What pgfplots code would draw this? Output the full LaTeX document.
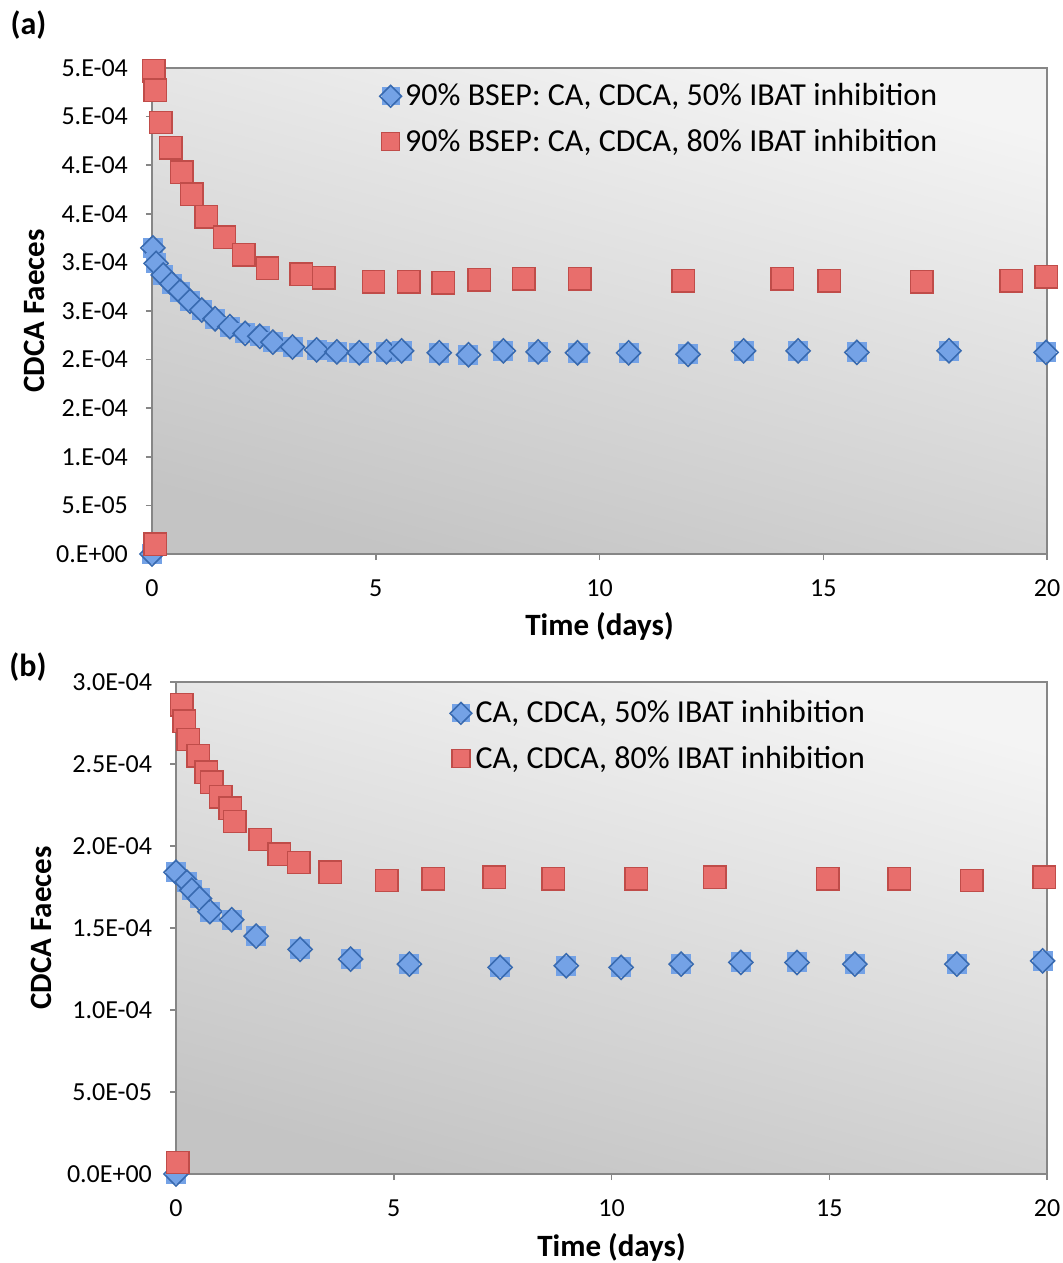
\documentclass[border=0pt]{standalone}
\usepackage{fontspec}
\setmainfont{Carlito}
\usepackage{pgfplots}
\pgfplotsset{compat=1.18}

\definecolor{redfill}{RGB}{232,110,108}
\definecolor{reddraw}{RGB}{192,76,73}
\definecolor{bluesq}{RGB}{116,162,230}
\definecolor{bluedia}{RGB}{56,106,176}
\definecolor{axgray}{RGB}{134,134,134}
\definecolor{bgtop}{RGB}{244,244,244}
\definecolor{bgbot}{RGB}{196,196,196}

% blue marker: filled square with a diamond outline on top
\pgfdeclareplotmark{sqdia}{%
  \pgfpathrectangle{\pgfqpoint{-\pgfplotmarksize}{-\pgfplotmarksize}}{\pgfqpoint{2\pgfplotmarksize}{2\pgfplotmarksize}}%
  \pgfsetfillcolor{bluesq}\pgfusepath{fill}%
  \pgfpathmoveto{\pgfqpoint{0pt}{1.2\pgfplotmarksize}}%
  \pgfpathlineto{\pgfqpoint{1.2\pgfplotmarksize}{0pt}}%
  \pgfpathlineto{\pgfqpoint{0pt}{-1.2\pgfplotmarksize}}%
  \pgfpathlineto{\pgfqpoint{-1.2\pgfplotmarksize}{0pt}}%
  \pgfpathclose
  \pgfsetstrokecolor{bluedia}\pgfusepath{stroke}}

\pgfplotsset{
  panel/.style={
    scale only axis, clip=false,
    xmin=0, xmax=20, xtick={0,5,10,15,20},
    xtick pos=left, ytick pos=left,
    tick align=outside, major tick length=3pt,
    scaled y ticks=false,
    axis line style={axgray, line width=0.75pt},
    tick style={axgray, line width=0.75pt},
    ticklabel style={font=\fontsize{13}{15}\selectfont},
    yticklabel style={xshift=-5.5pt},
    xticklabel style={yshift=-6.5pt},
    /pgf/number format/assume math mode=true,
    label style={font=\fontsize{15.5}{18}\selectfont\bfseries},
    xlabel={Time (days)},
    ylabel={CDCA Faeces},
    axis background/.style={top color=bgtop, bottom color=bgbot, shading angle=-15},
    legend cell align=left,
    legend image code/.code={\draw[##1,mark size=4.5pt] plot coordinates {(0.15cm,0cm)};},
    legend style={draw=none, fill=none, font=\fontsize{16}{19}\selectfont,
      row sep=8pt, nodes={inner xsep=1.5pt, inner ysep=1pt}},
  },
  bluepts/.style={only marks, mark=sqdia, mark size=5pt, line width=0.8pt},
  redpts/.style={only marks, mark=square*, mark size=5.6pt,
    mark options={fill=redfill, draw=reddraw, line width=0.7pt}},
}

\begin{document}
\begin{tikzpicture}
\useasboundingbox (0,0) rectangle (531pt,-631.5pt);

\node[font=\fontsize{16}{19}\selectfont\bfseries] at (14.25pt,-12.5pt) {(a)};
\node[font=\fontsize{16}{19}\selectfont\bfseries] at (14pt,-333.5pt) {(b)};

% panel (a)
\begin{axis}[panel,
  at={(76pt,-277pt)}, anchor=south west, width=447.5pt, height=243pt,
  ymin=0, ymax=5e-4,
  ytick={0,0.5e-4,1e-4,1.5e-4,2e-4,2.5e-4,3e-4,3.5e-4,4e-4,4.5e-4,5e-4},
  yticklabels={0.E+00,5.E-05,1.E-04,2.E-04,2.E-04,3.E-04,3.E-04,4.E-04,4.E-04,5.E-04,5.E-04},
  every axis y label/.append style={at={(axis description cs:-0.131,0.5)}, anchor=center},
  every axis x label/.append style={at={(axis description cs:0.5,-0.150)}, anchor=center},
  legend style={at={(axis description cs:0.2465,0.981)}, anchor=north west},
]
\addplot[bluepts] coordinates {
  (0,0) (0.02,3.15e-4) (0.09,2.99e-4) (0.25,2.87e-4) (0.44,2.78e-4)
  (0.63,2.70e-4) (0.85,2.60e-4) (1.11,2.51e-4) (1.41,2.42e-4) (1.74,2.34e-4)
  (2.08,2.27e-4) (2.41,2.24e-4) (2.70,2.18e-4) (3.14,2.13e-4) (3.68,2.10e-4)
  (4.13,2.08e-4) (4.63,2.07e-4) (5.24,2.08e-4) (5.58,2.09e-4) (6.42,2.07e-4)
  (7.07,2.05e-4) (7.85,2.09e-4) (8.63,2.08e-4) (9.51,2.07e-4) (10.65,2.07e-4)
  (11.98,2.055e-4) (13.22,2.09e-4) (14.44,2.09e-4) (15.75,2.075e-4)
  (17.81,2.09e-4) (19.98,2.075e-4)
};
\addlegendentry{90\% BSEP: CA, CDCA, 50\% IBAT inhibition}
\addplot[redpts] coordinates {
  (0.07,0.10e-4) (0.04,4.97e-4) (0.07,4.77e-4) (0.20,4.44e-4) (0.42,4.18e-4)
  (0.67,3.93e-4) (0.89,3.70e-4) (1.21,3.47e-4) (1.62,3.26e-4) (2.05,3.08e-4)
  (2.58,2.94e-4) (3.33,2.88e-4) (3.84,2.84e-4) (4.95,2.80e-4) (5.74,2.80e-4)
  (6.51,2.79e-4) (7.31,2.82e-4) (8.31,2.83e-4) (9.56,2.83e-4) (11.87,2.81e-4)
  (14.08,2.83e-4) (15.13,2.81e-4) (17.2,2.80e-4) (19.2,2.81e-4) (19.98,2.85e-4)
};
\addlegendentry{90\% BSEP: CA, CDCA, 80\% IBAT inhibition}
\end{axis}

% panel (b)
\begin{axis}[panel,
  at={(88pt,-587pt)}, anchor=south west, width=435.5pt, height=246pt,
  ymin=0, ymax=3e-4,
  ytick={0,0.5e-4,1e-4,1.5e-4,2e-4,2.5e-4,3e-4},
  yticklabels={0.0E+00,5.0E-05,1.0E-04,1.5E-04,2.0E-04,2.5E-04,3.0E-04},
  every axis y label/.append style={at={(axis description cs:-0.155,0.5)}, anchor=center},
  every axis x label/.append style={at={(axis description cs:0.5,-0.150)}, anchor=center},
  legend style={at={(axis description cs:0.3065,0.975)}, anchor=north west},
]
\addplot[bluepts] coordinates {
  (0,0) (0,1.84e-4) (0.25,1.78e-4) (0.36,1.73e-4) (0.54,1.68e-4) (0.78,1.60e-4)
  (1.28,1.55e-4) (1.84,1.45e-4) (2.85,1.37e-4) (4.01,1.31e-4) (5.36,1.28e-4)
  (7.44,1.26e-4) (8.96,1.27e-4) (10.22,1.26e-4) (11.6,1.28e-4) (12.97,1.29e-4)
  (14.26,1.29e-4) (15.59,1.28e-4) (17.93,1.28e-4) (19.9,1.30e-4)
};
\addlegendentry{CA, CDCA, 50\% IBAT inhibition}
\addplot[redpts] coordinates {
  (0.04,0.07e-4) (0.13,2.86e-4) (0.19,2.76e-4) (0.28,2.65e-4) (0.51,2.55e-4)
  (0.69,2.45e-4) (0.82,2.39e-4) (1.03,2.30e-4) (1.24,2.23e-4) (1.35,2.15e-4)
  (1.93,2.04e-4) (2.37,1.95e-4) (2.82,1.90e-4) (3.54,1.84e-4) (4.84,1.79e-4)
  (5.91,1.80e-4) (7.31,1.81e-4) (8.66,1.80e-4) (10.57,1.80e-4) (12.37,1.81e-4)
  (14.97,1.80e-4) (16.61,1.80e-4) (18.27,1.79e-4) (19.94,1.81e-4)
};
\addlegendentry{CA, CDCA, 80\% IBAT inhibition}
\end{axis}
\end{tikzpicture}
\end{document}
